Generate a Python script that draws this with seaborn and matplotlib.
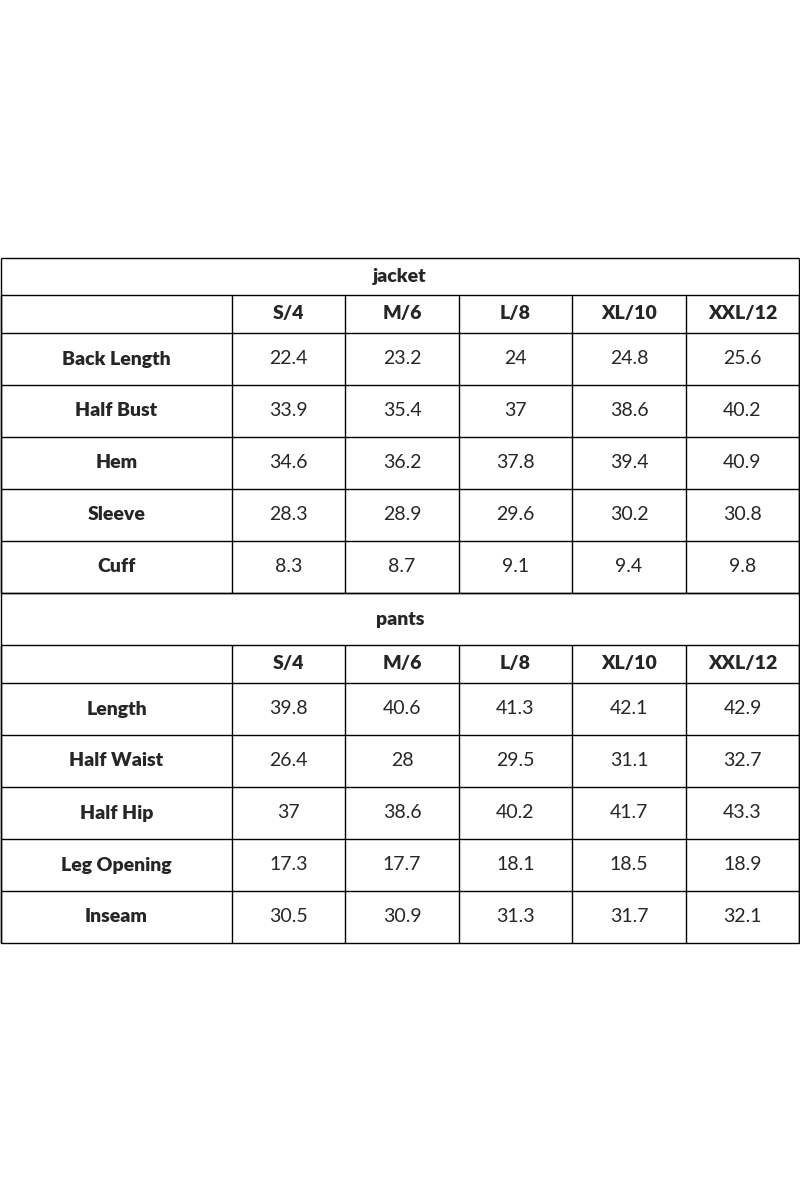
import matplotlib.pyplot as plt
import seaborn as sns

sns.set_theme(style="white")
plt.rcParams['font.family'] = ['Lato', 'DejaVu Sans']

sizes = ["S/4", "M/6", "L/8", "XL/10", "XXL/12"]
jacket_rows = ["Back Length", "Half Bust", "Hem", "Sleeve", "Cuff"]
jacket_vals = [
    [22.4, 23.2, 24, 24.8, 25.6],
    [33.9, 35.4, 37, 38.6, 40.2],
    [34.6, 36.2, 37.8, 39.4, 40.9],
    [28.3, 28.9, 29.6, 30.2, 30.8],
    [8.3, 8.7, 9.1, 9.4, 9.8],
]
pants_rows = ["Length", "Half Waist", "Half Hip", "Leg Opening", "Inseam"]
pants_vals = [
    [39.8, 40.6, 41.3, 42.1, 42.9],
    [26.4, 28, 29.5, 31.1, 32.7],
    [37, 38.6, 40.2, 41.7, 43.3],
    [17.3, 17.7, 18.1, 18.5, 18.9],
    [30.5, 30.9, 31.3, 31.7, 32.1],
]

col_edges = [1, 232, 345, 459, 572, 686, 799]
fig = plt.figure(figsize=(8, 12), dpi=100)
ax = fig.add_axes([0, 0, 1, 1])
ax.set_xlim(0, 800)
ax.set_ylim(1200, 0)
ax.axis("off")

fs = 14
lw = 1.0


def section(top, title, title_h, labels, vals):
    y = top
    ax.hlines(y, col_edges[0], col_edges[-1], color="black", lw=lw)
    ax.text(400, y + title_h / 2, title, ha="center", va="center", fontsize=fs, fontweight="heavy")
    y += title_h
    ax.hlines(y, col_edges[0], col_edges[-1], color="black", lw=lw)
    rows = [("", sizes, True)] + [(l, [f"{v:g}" for v in vs], False) for l, vs in zip(labels, vals)]
    for i, (lab, cells, hdr) in enumerate(rows):
        h = 38 if hdr else 52
        ax.text((col_edges[0] + col_edges[1]) / 2, y + h / 2, lab, ha="center", va="center",
                fontsize=fs, fontweight="heavy")
        for j, c in enumerate(cells):
            ax.text((col_edges[j + 1] + col_edges[j + 2]) / 2, y + h / 2, c, ha="center", va="center",
                    fontsize=fs, fontweight="heavy" if hdr else "normal")
        ax.vlines(col_edges, y, y + h, color="black", lw=lw)
        y += h
        ax.hlines(y, col_edges[0], col_edges[-1], color="black", lw=lw)
    ax.vlines([col_edges[0], col_edges[-1]], top, y, color="black", lw=lw)
    return y


y = section(258, "jacket", 37, jacket_rows, jacket_vals)
section(y, "pants", 52, pants_rows, pants_vals)

fig.savefig("out.png", dpi=100, facecolor="white")
